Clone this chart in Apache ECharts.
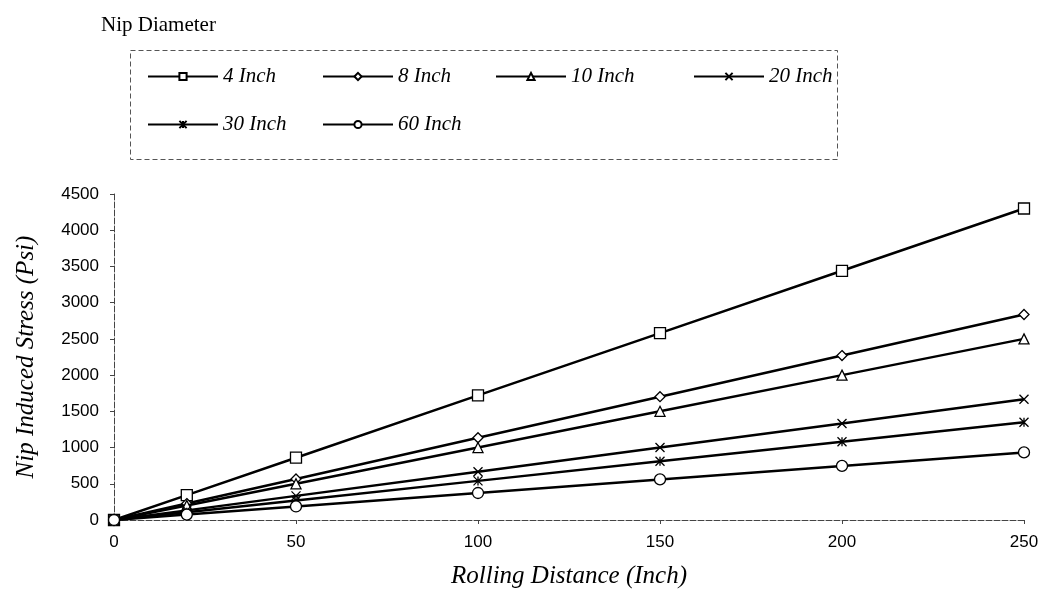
<!DOCTYPE html>
<html>
<head>
<meta charset="utf-8">
<script src="https://cdn.jsdelivr.net/npm/echarts@6/dist/echarts.min.js"></script>
<style>
  html, body { margin: 0; padding: 0; background: #fff; }
  #chart { width: 1047px; height: 595px; }
</style>
</head>
<body>
<div id="chart"></div>
<script>
// Rolling distance (inch) at which stress was computed
const distances = [0, 20, 50, 100, 150, 200, 250];

// Nip induced stress (psi) for each nip diameter
const nip4in  = [0, 344, 860, 1720, 2580, 3440, 4300];
const nip8in  = [0, 227, 567, 1135, 1702, 2270, 2837];
const nip10in = [0, 200, 500, 1000, 1500, 2000, 2500];
const nip20in = [0, 133, 333, 667, 1000, 1333, 1667];
const nip30in = [0, 108, 270, 540, 810, 1080, 1350];
const nip60in = [0, 75, 187, 373, 560, 747, 933];

const seriesNames = ['4 Inch', '8 Inch', '10 Inch', '20 Inch', '30 Inch', '60 Inch'];
const seriesValues = [nip4in, nip8in, nip10in, nip20in, nip30in, nip60in];

const xTicks = [0, 50, 100, 150, 200, 250];
const yTicks = [0, 500, 1000, 1500, 2000, 2500, 3000, 3500, 4000, 4500];

// marker shapes: square, diamond, triangle, cross, asterisk, circle
const markers = [
  { symbol: 'rect', size: 11 },
  { symbol: 'diamond', size: 10 },
  { symbol: 'triangle', size: 10 },
  { symbol: 'path://M0,0L10,10M10,0L0,10', size: 9 },
  { symbol: 'path://M0,0L10,10M10,0L0,10M5,0L5,10', size: 9 },
  { symbol: 'circle', size: 11 }
];

const serif = "'Liberation Serif', 'Times New Roman', serif";
const sans = "'Liberation Sans', Arial, sans-serif";

const series = seriesNames.map((name, i) => ({
  name: name,
  type: 'line',
  data: distances.map((d, k) => [d, seriesValues[i][k]]),
  symbol: markers[i].symbol,
  symbolSize: markers[i].size,
  showAllSymbol: true,
  lineStyle: { color: '#000', width: 2.5 },
  itemStyle: { color: '#fff', borderColor: '#000', borderWidth: 1.3 },
  emphasis: { disabled: true },
  z: 2 + i
}));

// legend laid out in fixed columns, two rows
const legendSlots = [
  { left: 147, top: 66 }, { left: 322, top: 66 }, { left: 495, top: 66 }, { left: 693, top: 66 },
  { left: 147, top: 114 }, { left: 322, top: 114 }
];
const legends = seriesNames.map((name, i) => ({
  data: [name],
  left: legendSlots[i].left,
  top: legendSlots[i].top,
  itemWidth: 70,
  itemHeight: 9,
  padding: 0,
  selectedMode: false,
  textStyle: { fontFamily: serif, fontStyle: 'italic', fontSize: 21, color: '#000' }
}));

const plainNumber = (v) => String(v);

const chart = echarts.init(document.getElementById('chart'), null, { renderer: 'canvas' });
chart.setOption({
  backgroundColor: '#fff',
  animation: false,
  title: {
    text: 'Nip Diameter',
    left: 96,
    top: 10,
    textStyle: { fontFamily: serif, fontWeight: 'normal', fontSize: 21, color: '#000' }
  },
  legend: legends,
  graphic: [{
    type: 'rect',
    shape: { x: 130.5, y: 50.5, width: 707, height: 109 },
    style: { fill: 'none', stroke: '#555', lineWidth: 1, lineDash: [5, 3] },
    silent: true
  }],
  grid: { left: 114, right: 23, top: 194, bottom: 75 },
  xAxis: {
    type: 'value',
    min: xTicks[0],
    max: xTicks[xTicks.length - 1],
    interval: xTicks[1] - xTicks[0],
    name: 'Rolling Distance (Inch)',
    nameLocation: 'middle',
    nameGap: 44,
    nameTextStyle: { fontFamily: serif, fontStyle: 'italic', fontSize: 25, color: '#000' },
    axisLine: { lineStyle: { color: '#444', width: 1, type: [6, 2] } },
    axisTick: { show: true, length: 4, lineStyle: { color: '#444' } },
    axisLabel: { margin: 14, fontFamily: sans, fontSize: 17, color: '#000', formatter: plainNumber },
    splitLine: { show: false }
  },
  yAxis: {
    type: 'value',
    min: yTicks[0],
    max: yTicks[yTicks.length - 1],
    interval: yTicks[1] - yTicks[0],
    name: 'Nip Induced Stress (Psi)',
    nameLocation: 'middle',
    nameGap: 75,
    nameTextStyle: { fontFamily: serif, fontStyle: 'italic', fontSize: 25, color: '#000' },
    axisLine: { show: true, lineStyle: { color: '#444', width: 1, type: [6, 2] } },
    axisTick: { show: true, length: 4, lineStyle: { color: '#444' } },
    axisLabel: { margin: 15, fontFamily: sans, fontSize: 17, color: '#000', formatter: plainNumber },
    splitLine: { show: false }
  },
  series: series
});
</script>
</body>
</html>
